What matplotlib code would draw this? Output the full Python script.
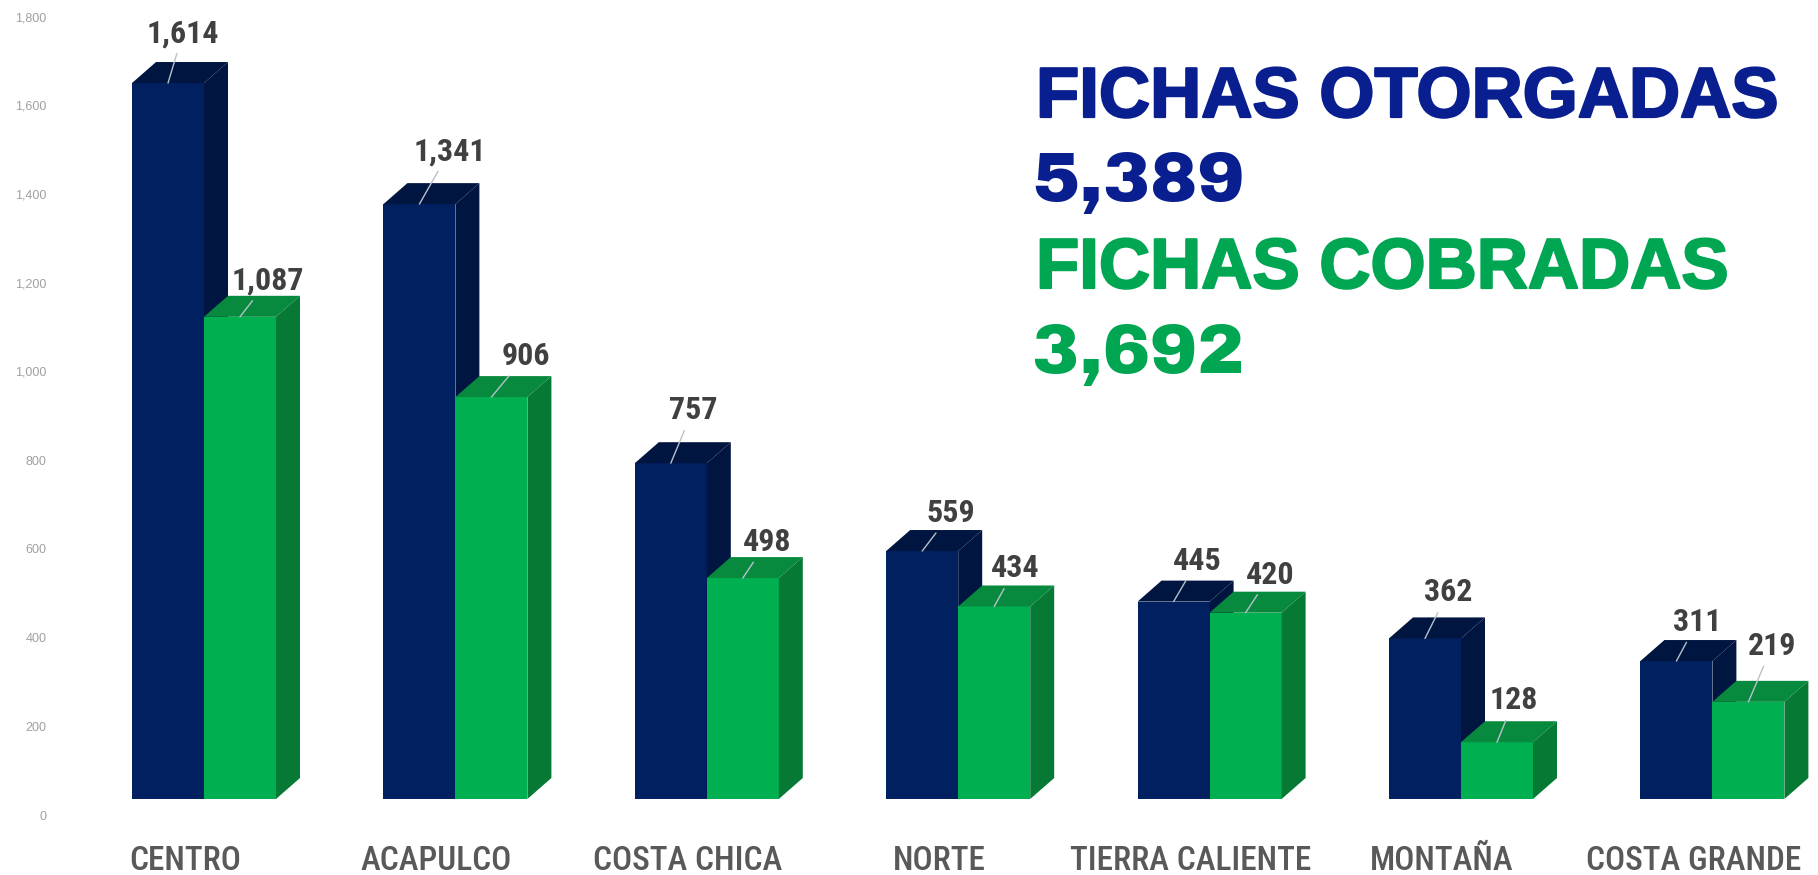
import matplotlib
matplotlib.use("Agg")
import matplotlib.pyplot as plt
import matplotlib.patheffects as pe
from matplotlib.transforms import ScaledTranslation

regions = ["CENTRO", "ACAPULCO", "COSTA CHICA", "NORTE", "TIERRA CALIENTE", "MONTAÑA", "COSTA GRANDE"]
otorgadas = [1614, 1341, 757, 559, 445, 362, 311]
cobradas = [1087, 906, 498, 434, 420, 128, 219]
y_ticks = [0, 200, 400, 600, 800, 1000, 1200, 1400, 1600, 1800]

# label offsets from the front top of each bar, in pixels
otorgadas_off = [(15, 50), (30, 53), (22, 53), (29, 38), (24, 41), (23, 46), (21, 39)]
cobradas_off = [(28, 36), (34, 41), (24, 36), (21, 38), (25, 38), (17, 42), (24, 56)]

W, H = 1818, 875
LEFT, BASE = 52, 799
PITCH = 251.4
PX_PER_UNIT = 0.4436
FIRST = 204

BLUE, BLUE_DARK = "#012060", "#001540"
GREEN, GREEN_TOP, GREEN_SIDE = "#00B050", "#078A3E", "#067A35"
NARROW = ["Roboto Condensed", "Liberation Sans"]
HEAVY = ["Archivo Black", "Liberation Sans"]

bar_w = 72 / PITCH
depth_x = 24 / PITCH
depth_y = 21 / PX_PER_UNIT


def px_shift(fig, dx, dy):
    return ScaledTranslation(dx / fig.dpi, dy / fig.dpi, fig.dpi_scale_trans)


def draw_bar(ax, x, value, front, top, side, off):
    ax.bar(x, value, bar_w, color=front, linewidth=0, align="edge", zorder=3)
    r = x + bar_w
    ax.fill([x, r, r + depth_x, x + depth_x], [value, value, value + depth_y, value + depth_y],
            color=top, linewidth=0, zorder=3)
    ax.fill([r, r + depth_x, r + depth_x, r], [0, depth_y, value + depth_y, value],
            color=side, linewidth=0, zorder=3)
    ax.annotate(f"{value:,}", xy=(x + bar_w / 2, value), xytext=off, textcoords="offset pixels",
                ha="center", va="center", fontsize=23, fontweight="bold", color="#404040",
                family=NARROW, zorder=10,
                arrowprops=dict(arrowstyle="-", color="#B8C2CC", lw=1, shrinkA=2, shrinkB=0))


fig = plt.figure(figsize=(W / 100, H / 100), dpi=100, facecolor="white")
ax = fig.add_axes([LEFT / W, (H - BASE) / H, (W - LEFT) / W, BASE / H])
ax.set_xlim((LEFT - FIRST) / PITCH, (W - FIRST) / PITCH)
ax.set_ylim(0, BASE / PX_PER_UNIT)

for i in range(len(regions)):
    draw_bar(ax, i - bar_w, otorgadas[i], BLUE, BLUE_DARK, BLUE_DARK, otorgadas_off[i])
    draw_bar(ax, i, cobradas[i], GREEN, GREEN_TOP, GREEN_SIDE, cobradas_off[i])

for s in ax.spines.values():
    s.set_visible(False)

ax.set_yticks(y_ticks)
ax.set_yticklabels([f"{v:,}" for v in y_ticks], fontsize=9, color="#A0A0A0", family="Liberation Sans")
ax.set_xticks(range(len(regions)))
ax.set_xticklabels(regions, fontsize=24, fontweight=500, color="#595959", family=NARROW, va="center")
ax.tick_params(length=0, axis="y", pad=4)
ax.tick_params(length=0, axis="x", pad=0)

for lab in ax.get_yticklabels():
    lab.set_transform(lab.get_transform() + px_shift(fig, 0, -16))
for lab in ax.get_xticklabels():
    lab.set_transform(lab.get_transform() + px_shift(fig, -19, -62))

BLUE_HEAD, GREEN_HEAD = "#0A1F8F", "#00A651"
for txt, base, col in [("FICHAS OTORGADAS", 117, BLUE_HEAD), ("FICHAS COBRADAS", 288, GREEN_HEAD)]:
    t = fig.text(1036 / W, 1 - base / H, txt, color=col, fontsize=51, fontweight="bold",
                 family="Liberation Sans", ha="left", va="baseline")
    t.set_path_effects([pe.withStroke(linewidth=1.6, foreground=col)])
for txt, base, col in [("5,389", 201, BLUE_HEAD), ("3,692", 373, GREEN_HEAD)]:
    fig.text(1032 / W, 1 - base / H, txt, color=col, fontsize=51, family=HEAVY,
             ha="left", va="baseline")

fig.savefig("out.png", dpi=100)
